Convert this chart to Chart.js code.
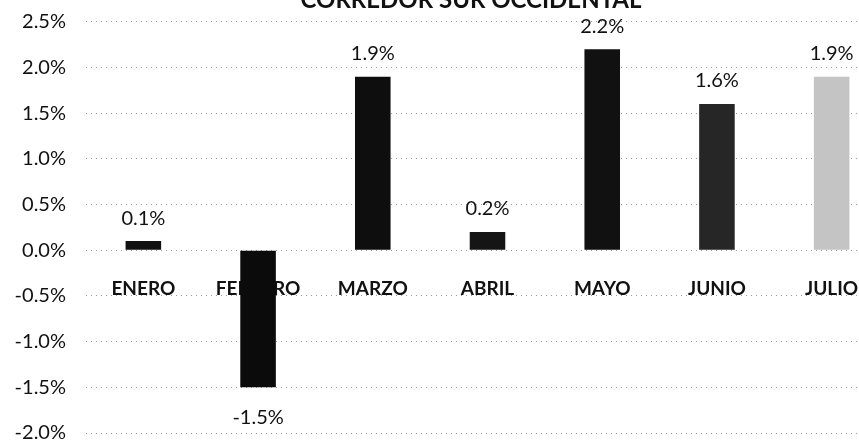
<!DOCTYPE html>
<html>
<head>
<meta charset="utf-8">
<script src="https://cdn.jsdelivr.net/npm/chart.js@4"></script>
<style>
    html, body { margin: 0; padding: 0; background: #fff; overflow: hidden; width: 859px; height: 440px; }
    #wrap { position: absolute; left: 0; top: -20px; width: 942px; height: 460px; }
</style>
</head>
<body>
<div id="wrap"><canvas id="barChart" width="942" height="460"></canvas></div>
<script>
// Datos del gráfico
const meses = ['ENERO', 'FEBRERO', 'MARZO', 'ABRIL', 'MAYO', 'JUNIO', 'JULIO'];
const variacion = [0.1, -1.5, 1.9, 0.2, 2.2, 1.6, 1.9];
const yMin = -2.0;
const yMax = 2.5;
const yPaso = 0.5;

const coloresBarras = ['#111', '#0b0b0b', '#0e0e0e', '#151515', '#111', '#262626', '#c4c4c4'];

// Etiquetas de valor sobre/bajo cada barra
const etiquetasValor = {
    id: 'etiquetasValor',
    afterDatasetsDraw(chart) {
        const ctx = chart.ctx;
        const meta = chart.getDatasetMeta(0);
        ctx.save();
        ctx.font = '20px Lato';
        ctx.fillStyle = '#111';
        ctx.textAlign = 'center';
        ctx.textBaseline = 'middle';
        meta.data.forEach((bar, i) => {
            const v = variacion[i];
            const y = v >= 0 ? bar.y - 23 : bar.y + 30;
            ctx.fillText(v.toFixed(1) + '%', bar.x, y);
        });
        ctx.restore();
    }
};

new Chart(document.getElementById('barChart'), {
    type: 'bar',
    data: {
        labels: meses,
        datasets: [{
            data: variacion,
            backgroundColor: coloresBarras,
            borderWidth: 0,
            barPercentage: 1,
            categoryPercentage: 0.31
        }]
    },
    options: {
        responsive: false,
        animation: false,
        layout: {
            padding: { left: 0, right: 0, top: 0, bottom: 7 }
        },
        plugins: {
            legend: { display: false },
            tooltip: { enabled: false },
            title: {
                display: true,
                text: 'CORREDOR SUR OCCIDENTAL',
                color: '#111',
                font: { family: 'Lato', size: 24, weight: 'bold' },
                padding: { top: 6, bottom: 7 }
            }
        },
        scales: {
            x: {
                position: { y: 0 },
                grid: { display: false, drawTicks: false },
                border: { display: false },
                ticks: {
                    color: '#111',
                    font: { family: 'Lato', size: 19, weight: 'bold' },
                    padding: 27,
                    maxRotation: 0,
                    autoSkip: false
                },
                afterFit: s => {
                    s.paddingLeft = 0;
                    s.paddingRight = 0;
                }
            },
            y: {
                min: yMin,
                max: yMax,
                grid: {
                    color: 'rgba(0,0,0,0.4)',
                    lineWidth: 1,
                    drawTicks: false
                },
                border: { display: false, dash: [1, 4] },
                ticks: {
                    stepSize: yPaso,
                    color: '#111',
                    font: { family: 'Lato', size: 20 },
                    padding: 20,
                    callback: v => v.toFixed(1) + '%'
                },
                afterFit: s => {
                    s.width = 86;
                    s.paddingTop = 0;
                    s.paddingBottom = 0;
                }
            },
            yR: {
                position: 'right',
                grid: { display: false, drawTicks: false },
                border: { display: false },
                ticks: { display: false },
                afterFit: s => { s.width = 53; }
            }
        }
    },
    plugins: [etiquetasValor]
});
</script>
</body>
</html>
